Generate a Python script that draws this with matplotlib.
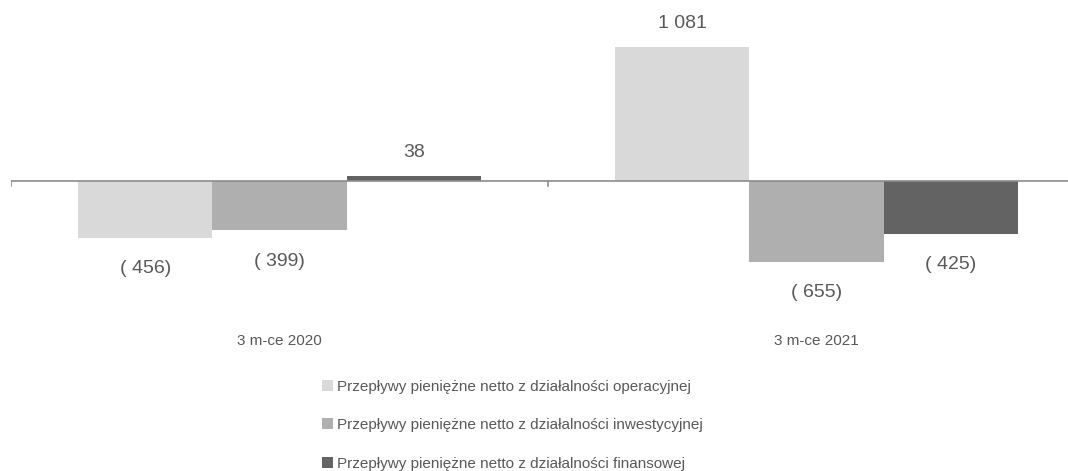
import matplotlib
matplotlib.use("Agg")
import matplotlib.pyplot as plt
import numpy as np

plt.rcParams['font.family'] = ['Liberation Sans Narrow', 'Liberation Sans', 'DejaVu Sans']

# dane (mln zł)
periods = ['3 m-ce 2020', '3 m-ce 2021']
series_names = ['Przepływy pieniężne netto z działalności operacyjnej',
                'Przepływy pieniężne netto z działalności inwestycyjnej',
                'Przepływy pieniężne netto z działalności finansowej']
operacyjne = [-456, 1081]
inwestycyjne = [-399, -655]
finansowe = [38, -425]
colors = ['#d9d9d9', '#afafaf', '#636363']
text_col = '#595959'

W, H = 1068, 471
fig = plt.figure(figsize=(W / 100, H / 100), dpi=100)

# os: od x=11 do 1085 px, zero na y=181 px
px_per_unit = 134 / 1081
zero_px = 181
ax = fig.add_axes([11 / W, 0, 1074 / W, 1])
ax.set_xlim(0, 2)
ax.set_ylim(-(H - zero_px) / px_per_unit, zero_px / px_per_unit)
ax.axis('off')

def fmt(v):
    s = '{:,}'.format(abs(v)).replace(',', ' ')
    return '( %s)' % s if v < 0 else s

centers = np.arange(len(periods)) + 0.5
bw = 0.25
for i, vals in enumerate([operacyjne, inwestycyjne, finansowe]):
    xs = centers + (i - 1) * bw
    ax.bar(xs, vals, width=bw, color=colors[i], label=series_names[i], zorder=2)
    for x, v in zip(xs, vals):
        if v >= 0:
            ax.annotate(fmt(v), (x, v), xytext=(0, 17), textcoords='offset points',
                        ha='center', va='center', fontsize=14, color=text_col)
        else:
            ax.annotate(fmt(v), (x, v), xytext=(0, -22), textcoords='offset points',
                        ha='center', va='center', fontsize=14, color=text_col)

# linia osi z kreskami
ax.axhline(0, color='#8c8c8c', lw=1.2, zorder=3)
for xt in [0, 1, 2]:
    ax.plot([xt, xt], [0, -5 / px_per_unit], color='#8c8c8c', lw=1.2, zorder=3)

for c, p in zip(centers, periods):
    ax.annotate(p, (c, 0), xytext=(0, -(341 - zero_px) * 0.72), textcoords='offset points',
                ha='center', va='center', fontsize=11, color=text_col)

leg = fig.legend(loc='upper left', bbox_to_anchor=(314 / W, 1 - 372 / H), frameon=False,
                 fontsize=11, labelcolor=text_col, handlelength=0.75, handleheight=0.75,
                 handletextpad=0.25, labelspacing=1.6, borderpad=0)

fig.savefig('out.png', dpi=100)
